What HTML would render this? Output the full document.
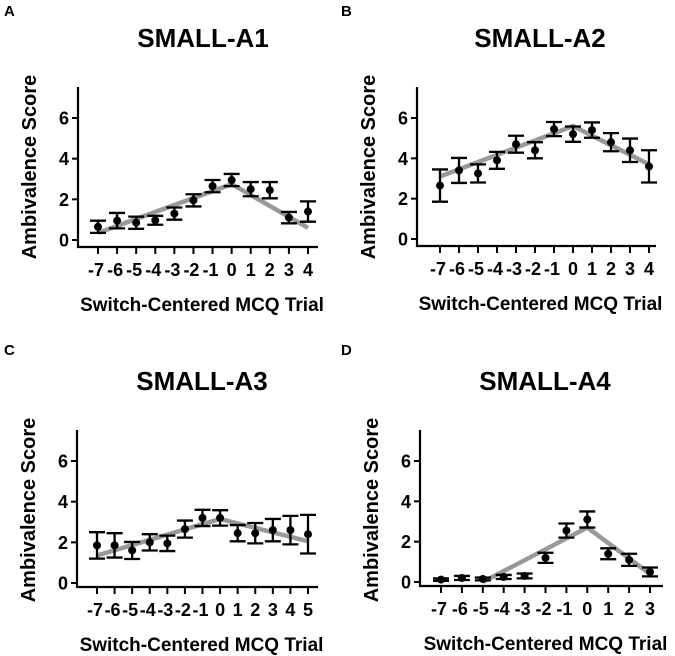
<!DOCTYPE html>
<html><head><meta charset="utf-8"><style>
body{margin:0;background:#fff;}
svg{display:block;font-family:"Liberation Sans",Arial,sans-serif;font-weight:bold;}
</style></head><body>
<svg id="fig" width="675" height="656" viewBox="0 0 675 656" xmlns="http://www.w3.org/2000/svg"></svg>
<script>
const catsA=[-7,-6,-5,-4,-3,-2,-1,0,1,2,3,4];
const meanA=[0.65,0.95,0.85,0.97,1.3,1.95,2.65,2.95,2.5,2.45,1.1,1.4];
const errA=[0.3,0.38,0.3,0.22,0.3,0.3,0.3,0.3,0.35,0.4,0.28,0.5];
const fitXA=[-7,0,4]; const fitYA=[0.35,2.75,0.6];
const catsB=[-7,-6,-5,-4,-3,-2,-1,0,1,2,3,4];
const meanB=[2.65,3.4,3.25,3.9,4.7,4.4,5.45,5.2,5.4,4.8,4.4,3.6];
const errB=[0.8,0.62,0.45,0.42,0.42,0.4,0.35,0.38,0.38,0.45,0.58,0.8];
const fitXB=[-7,0,4]; const fitYB=[3.1,5.6,3.7];
const catsC=[-7,-6,-5,-4,-3,-2,-1,0,1,2,3,4,5];
const meanC=[1.85,1.85,1.6,2.0,1.95,2.65,3.2,3.2,2.45,2.45,2.6,2.6,2.4];
const errC=[0.65,0.6,0.42,0.4,0.38,0.42,0.4,0.38,0.4,0.5,0.55,0.7,0.95];
const fitXC=[-7,0,5]; const fitYC=[1.35,3.15,2.05];
const catsD=[-7,-6,-5,-4,-3,-2,-1,0,1,2,3];
const meanD=[0.12,0.2,0.15,0.25,0.3,1.2,2.55,3.1,1.4,1.1,0.5];
const errD=[0.06,0.1,0.07,0.1,0.12,0.25,0.35,0.4,0.27,0.3,0.22];
const fitXD=[-5,0,3]; const fitYD=[0.0,2.7,0.4];
const yTicks=[0,2,4,6];

const svg=document.getElementById('fig');
const NS='http://www.w3.org/2000/svg';
function mk(tag,attrs,parent){const e=document.createElementNS(NS,tag);for(const k in attrs)e.setAttribute(k,attrs[k]);(parent||svg).appendChild(e);return e;}

function panel(o){
  const g=mk('g',{});
  
  
  const yS=v=>o.y0-v*(o.y0-o.y6)/6;
  const xS=c=>o.xFirst+(c-o.cats[0])*(o.xLast-o.xFirst)/(o.cats[o.cats.length-1]-o.cats[0]);
  let t=mk('text',{x:o.lx,y:o.ly,'font-size':15},g);t.textContent=o.letter;
  
  t=mk('text',{x:o.tx,y:o.ty,'font-size':26,'text-anchor':'middle'},g);t.textContent=o.title;
  
  let a=mk('line',{x1:o.ax,y1:o.ytop,x2:o.ax,y2:o.xaxY+1,stroke:'#000','stroke-width':2.2},g);
  
  a=mk('line',{x1:o.ax-1,y1:o.xaxY,x2:o.axEnd,y2:o.xaxY,stroke:'#000','stroke-width':2.2},g);
  
  yTicks.forEach(v=>{
    mk('line',{x1:o.ax-6,y1:yS(v),x2:o.ax,y2:yS(v),stroke:'#000','stroke-width':2},g);
    const l=mk('text',{x:o.ax-9,y:yS(v)+6.5,'font-size':18,'text-anchor':'end'},g);l.textContent=v;
    
  });
  o.cats.forEach(c=>{
    mk('line',{x1:xS(c),y1:o.xaxY,x2:xS(c),y2:o.xaxY+7,stroke:'#000','stroke-width':2},g);
    const l=mk('text',{x:xS(c)+(c<0?-2:0),y:o.xaxY+29,'font-size':18,'text-anchor':'middle'},g);l.textContent=c;
    
  });
  t=mk('text',{x:(o.ax+o.axEnd)/2+4,y:o.xaxY+64,'font-size':19,'text-anchor':'middle'},g);t.textContent='Switch-Centered MCQ Trial';
  
  t=mk('text',{x:0,y:0,'font-size':20,'text-anchor':'middle',transform:`translate(${o.ax-42},${o.ytop+80}) rotate(-90)`},g);t.textContent='Ambivalence Score';
  
  const pts=o.fitX.map((x,i)=>xS(x)+','+yS(o.fitY[i])).join(' ');
  const f=mk('polyline',{points:pts,fill:'none',stroke:'#999','stroke-width':4.5},g);
  
  o.cats.forEach((c,i)=>{
    const x=xS(c),m=o.mean[i],e=o.err[i];
    const eb=mk('path',{d:`M${x},${yS(m+e)}V${yS(m-e)}M${x-8},${yS(m+e)}H${x+8}M${x-8},${yS(m-e)}H${x+8}`,stroke:'#000','stroke-width':2.3,fill:'none'},g);
    
    const p=mk('circle',{cx:x,cy:yS(m),r:4,fill:'#000'},g);
    
  });
}
panel({id:'a1',letter:'A',title:'SMALL-A1',lx:4,ly:16,tx:203,ty:47,ax:78,ytop:87,y0:240,y6:118,xaxY:247,axEnd:318,cats:catsA,xFirst:98,xLast:308,mean:meanA,err:errA,fitX:fitXA,fitY:fitYA});
panel({id:'a2',letter:'B',title:'SMALL-A2',lx:341,ly:16,tx:540,ty:47,ax:417,ytop:87,y0:239,y6:118,xaxY:246,axEnd:656,cats:catsB,xFirst:440,xLast:649,mean:meanB,err:errB,fitX:fitXB,fitY:fitYB});
panel({id:'a3',letter:'C',title:'SMALL-A3',lx:4,ly:355,tx:202,ty:390,ax:77,ytop:430,y0:583,y6:461,xaxY:587,axEnd:318,cats:catsC,xFirst:97,xLast:308,mean:meanC,err:errC,fitX:fitXC,fitY:fitYC});
panel({id:'a4',letter:'D',title:'SMALL-A4',lx:341,ly:355,tx:545,ty:390,ax:420,ytop:430,y0:582,y6:461,xaxY:586,axEnd:663,cats:catsD,xFirst:441,xLast:650,mean:meanD,err:errD,fitX:fitXD,fitY:fitYD});
</script>
</body></html>
